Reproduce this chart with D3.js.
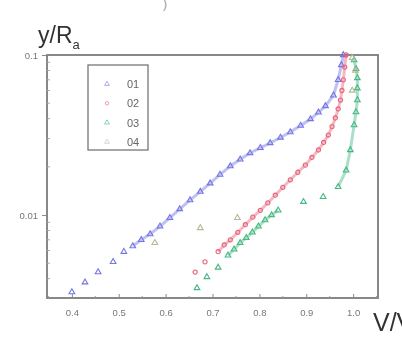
<!DOCTYPE html>
<html>
<head>
<meta charset="utf-8">
<script src="https://cdn.jsdelivr.net/npm/d3@7"></script>
<style>
  body { margin: 0; background: #fff; }
  text { font-family: "Liberation Sans", Arial, sans-serif; }
</style>
</head>
<body>
<div id="chart"></div>
<script>
// values: [V, y/Ra]
const series01 = [
    [0.400, 0.0033], [0.428, 0.0038], [0.456, 0.0044], [0.488, 0.0051], [0.511, 0.0059],
    [0.530, 0.0064], [0.548, 0.0070], [0.567, 0.0076], [0.588, 0.0085], [0.609, 0.0096],
    [0.630, 0.0109], [0.652, 0.0124], [0.674, 0.0140], [0.695, 0.0158], [0.716, 0.0179],
    [0.738, 0.0202], [0.759, 0.0223], [0.780, 0.0244], [0.802, 0.0263], [0.823, 0.0282],
    [0.845, 0.0305], [0.866, 0.0330], [0.888, 0.0362], [0.909, 0.0398], [0.926, 0.0438],
    [0.941, 0.0480], [0.958, 0.0560], [0.968, 0.0700], [0.975, 0.0866], [0.979, 0.1000]
];
const series02 = [
    [0.663, 0.0044], [0.684, 0.0051], [0.712, 0.0059], [0.725, 0.0065], [0.738, 0.0070],
    [0.754, 0.0078], [0.770, 0.0087], [0.786, 0.0097], [0.802, 0.0107], [0.818, 0.0119],
    [0.834, 0.0133], [0.850, 0.0149], [0.866, 0.0166], [0.882, 0.0185], [0.898, 0.0205],
    [0.912, 0.0229], [0.926, 0.0255], [0.937, 0.0284], [0.947, 0.0316], [0.955, 0.0357],
    [0.962, 0.0404], [0.968, 0.0460], [0.973, 0.0523], [0.976, 0.0600], [0.979, 0.0700],
    [0.982, 0.0840], [0.985, 0.1000]
];
const series03 = [
    [0.667, 0.0035], [0.688, 0.0041], [0.712, 0.0047], [0.733, 0.0056], [0.746, 0.0061],
    [0.759, 0.0067], [0.772, 0.0072], [0.785, 0.0078], [0.798, 0.0085], [0.812, 0.0093],
    [0.826, 0.0100], [0.840, 0.0107], [0.894, 0.0121], [0.936, 0.0130], [0.968, 0.0150],
    [0.985, 0.0190], [0.994, 0.0255], [1.002, 0.0365], [1.006, 0.0440], [1.009, 0.0523],
    [1.009, 0.0620], [1.009, 0.0718], [1.006, 0.0820], [1.002, 0.0930]
];
const series04 = [
    [0.577, 0.0067], [0.674, 0.0083], [0.753, 0.0096],
    [0.998, 0.0600], [1.005, 0.0800], [0.998, 0.0960]
];
const seriesNames = ["01", "02", "03", "04"];
const seriesColors = ["#7474e4", "#e6627a", "#46b882", "#e4e470"];
// V ranges where the symbols are packed so densely they read as a band
const denseRanges = [[[0.53, 1.0]], [[0.71, 1.0]], [[0.73, 0.841], [0.968, 1.02]], []];
const xTicks = [0.4, 0.5, 0.6, 0.7, 0.8, 0.9, 1.0];
const yTicks = [0.01, 0.1];

const width = 402, height = 339;
const margin = {left: 47, right: 24, top: 55, bottom: 41};

const svg = d3.select("#chart").append("svg")
    .attr("width", width)
    .attr("height", height);

const defs = svg.append("defs");
defs.append("filter").attr("id", "soft")
    .append("feGaussianBlur").attr("stdDeviation", 0.7);
defs.append("filter").attr("id", "softText")
    .append("feGaussianBlur").attr("stdDeviation", 0.45);

const x = d3.scaleLinear()
    .domain([0.347, 1.053])
    .range([margin.left, width - margin.right]);
const y = d3.scaleLog()
    .domain([0.00303, 0.1])
    .range([height - margin.bottom, margin.top]);

const g = svg.append("g").attr("filter", "url(#soft)");

// frame
g.append("rect")
    .attr("x", margin.left)
    .attr("y", margin.top)
    .attr("width", width - margin.left - margin.right)
    .attr("height", height - margin.top - margin.bottom)
    .attr("fill", "none")
    .attr("stroke", "#7c7c7c")
    .attr("stroke-width", 1.8);

// bottom axis
const xAxis = svg.append("g")
    .attr("filter", "url(#softText)")
    .attr("transform", `translate(0,${height - margin.bottom})`)
    .call(d3.axisBottom(x).tickValues(xTicks).tickFormat(d3.format(".1f")).tickSize(-4).tickPadding(11));
xAxis.select(".domain").remove();
xAxis.selectAll("line").attr("stroke", "#8a8a8a");
xAxis.selectAll("text").attr("fill", "#777").attr("font-size", 9.5);
g.append("g")
    .attr("transform", `translate(0,${height - margin.bottom})`)
    .selectAll("line")
    .data(d3.range(0.35, 1.051, 0.05).filter(v => Math.abs(v * 10 - Math.round(v * 10)) > 0.01))
    .join("line")
    .attr("x1", d => x(d)).attr("x2", d => x(d))
    .attr("y1", 0).attr("y2", -2)
    .attr("stroke", "#999");

// left axis
const yAxis = svg.append("g")
    .attr("filter", "url(#softText)")
    .attr("transform", `translate(${margin.left},0)`)
    .call(d3.axisLeft(y).tickValues(yTicks).tickFormat(d => d === 0.1 ? "0.1" : "0.01").tickSize(5).tickPadding(4));
yAxis.select(".domain").remove();
yAxis.selectAll("line").attr("stroke", "#8a8a8a");
yAxis.selectAll("text").attr("fill", "#777").attr("font-size", 9.5);
const minorY = [];
[0.001, 0.01].forEach(dec => { for (let k = 2; k <= 9; k++) minorY.push(dec * k); });
g.append("g")
    .selectAll("line")
    .data(minorY.filter(v => v >= 0.00303 && v <= 0.1))
    .join("line")
    .attr("x1", margin.left).attr("x2", margin.left + 3)
    .attr("y1", d => y(d)).attr("y2", d => y(d))
    .attr("stroke", "#aaa");

// data
const allSeries = [series01, series02, series03, series04];
const line = d3.line().x(d => x(d[0])).y(d => y(d[1]));
allSeries.forEach((s, i) => {
    denseRanges[i].forEach(([lo, hi]) => {
        g.append("path")
            .datum(s.filter(d => d[0] >= lo && d[0] <= hi))
            .attr("d", line)
            .attr("fill", "none")
            .attr("stroke", seriesColors[i])
            .attr("stroke-width", 3)
            .attr("stroke-opacity", 0.45);
    });
    g.append("g")
        .selectAll("path")
        .data(s)
        .join("path")
        .attr("transform", d => `translate(${x(d[0])},${y(d[1])})`)
        .attr("d", d3.symbol(i === 1 ? d3.symbolCircle : d3.symbolTriangle, 14))
        .attr("fill", "none")
        .attr("stroke", i === 3 ? "#b8b896" : seriesColors[i])
        .attr("stroke-width", 1.1);
});

// legend
const lg = g.append("g");
lg.append("rect")
    .attr("x", 88).attr("y", 65)
    .attr("width", 60).attr("height", 85)
    .attr("fill", "#fff")
    .attr("stroke", "#777")
    .attr("stroke-width", 1.3);
seriesNames.forEach((name, i) => {
    const ly = 84 + i * 19.3;
    lg.append("path")
        .attr("transform", `translate(107,${ly})`)
        .attr("d", d3.symbol(i === 1 ? d3.symbolCircle : d3.symbolTriangle, 10))
        .attr("fill", "none")
        .attr("stroke", i === 3 ? "#bbb" : seriesColors[i])
        .attr("stroke-opacity", 0.6);
    lg.append("text")
        .attr("x", 127).attr("y", ly + 4)
        .attr("font-size", 11)
        .attr("fill", "#666")
        .text(name);
});

// axis titles
const yt = svg.append("text")
    .attr("filter", "url(#softText)")
    .attr("x", 38).attr("y", 43)
    .attr("font-size", 23)
    .attr("fill", "#333");
yt.append("tspan").text("y/R");
yt.append("tspan").attr("font-size", 13).attr("dy", 6).text("a");

svg.append("text")
    .attr("filter", "url(#softText)")
    .attr("x", 373).attr("y", 331)
    .attr("font-size", 25)
    .attr("fill", "#333")
    .text("V/V");

svg.append("text")
    .attr("x", 163).attr("y", 8)
    .attr("font-size", 12)
    .attr("fill", "#999")
    .text(")");
</script>
</body>
</html>
